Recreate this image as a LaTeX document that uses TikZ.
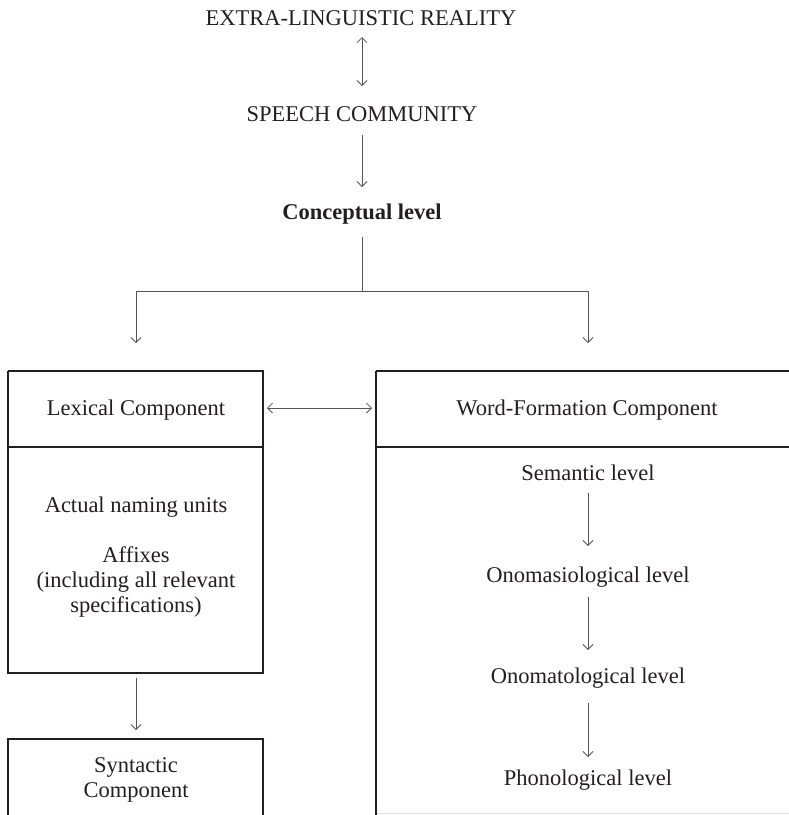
\documentclass[tikz,border=0pt]{standalone}
\usepackage{fontspec}
\setmainfont{Liberation Serif}
\usetikzlibrary{arrows.meta}
\definecolor{ink}{HTML}{231F20}
\definecolor{arrowgray}{HTML}{555555}
\begin{document}
\begin{tikzpicture}[x=1pt,y=-1pt,
  lbl/.style={font=\fontsize{22.5}{25}\selectfont, inner sep=0pt, align=center, text=ink, anchor=base},
  conn/.style={draw=arrowgray, line width=0.8pt, -{Straight Barb[length=5pt,width=10pt]}},
  biconn/.style={draw=arrowgray, line width=0.8pt, {Straight Barb[length=5pt,width=10pt]}-{Straight Barb[length=5pt,width=10pt]}},
  plain/.style={draw=arrowgray, line width=0.8pt},
  side/.style={draw=ink, line width=1.1pt},
  faint/.style={draw=black!12, line width=1pt},
  topedge/.style={draw=ink, line width=1.8pt}]
\useasboundingbox (0,0) rectangle (789,815);

% top chain
\node[lbl] (elr) at (361,25) {EXTRA-LINGUISTIC REALITY};
\node[lbl] (sc) at (362,121) {SPEECH COMMUNITY};
\node[lbl, font=\fontsize{22.5}{25}\selectfont\bfseries] (cl) at (362,219) {Conceptual level};

\coordinate (a1s) at (362,37);  \coordinate (a1e) at (362,86);
\coordinate (a2s) at (362,135); \coordinate (a2e) at (362,187);
\draw[biconn] (a1s) -- (a1e);
\draw[conn] (a2s) -- (a2e);

% branching
\coordinate (clb) at (362,237);
\coordinate (fork) at (362,291);
\coordinate (forkL) at (136,291);
\coordinate (forkR) at (588,291);
\coordinate (endL) at (136,343);
\coordinate (endR) at (588,343);
\draw[plain] (clb) -- (fork);
\draw[plain] (forkL) -- (forkR);
\draw[conn] (forkL) -- (endL);
\draw[conn] (forkR) -- (endR);

% lexical box
\draw[side] (8,371) -- (8,673) -- (263,673) -- (263,371);
\draw[topedge] (7.5,371) -- (263.5,371);
\draw[side] (8,447) -- (263,447);
\node[lbl] (lex) at (136,415) {Lexical Component};
\node[lbl] (anu) at (136,512) {Actual naming units};
\node[lbl] (aff) at (136,612) {Affixes\\(including all relevant\\specifications)};

% word-formation box (continues past right edge)
\draw[faint] (377,813) -- (789,813);
\draw[side] (376,815) -- (376,371);
\draw[topedge] (375.5,371) -- (789,371);
\draw[side] (376,447) -- (789,447);
\node[lbl] (wfc) at (587,415) {Word-Formation Component};

% bidirectional link between boxes
\coordinate (lexR) at (267,408);
\coordinate (wfL) at (372,408);
\draw[biconn] (lexR) -- (wfL);

% word-formation levels
\node[lbl] (sem) at (588,480) {Semantic level};
\node[lbl] (ono) at (588,582) {Onomasiological level};
\node[lbl] (onm) at (588,683) {Onomatological level};
\node[lbl] (pho) at (588,785) {Phonological level};
\coordinate (b1s) at (588,493); \coordinate (b1e) at (588,546);
\coordinate (b2s) at (588,597); \coordinate (b2e) at (588,650);
\coordinate (b3s) at (588,703); \coordinate (b3e) at (588,757);
\draw[conn] (b1s) -- (b1e);
\draw[conn] (b2s) -- (b2e);
\draw[conn] (b3s) -- (b3e);

% syntactic box (open at bottom)
\coordinate (c1s) at (136,678); \coordinate (c1e) at (136,730);
\draw[conn] (c1s) -- (c1e);
\draw[side] (8,815) -- (8,739) -- (263,739) -- (263,815);
\node[lbl] (syn) at (136,797) {Syntactic\\Component};
\end{tikzpicture}
\end{document}
